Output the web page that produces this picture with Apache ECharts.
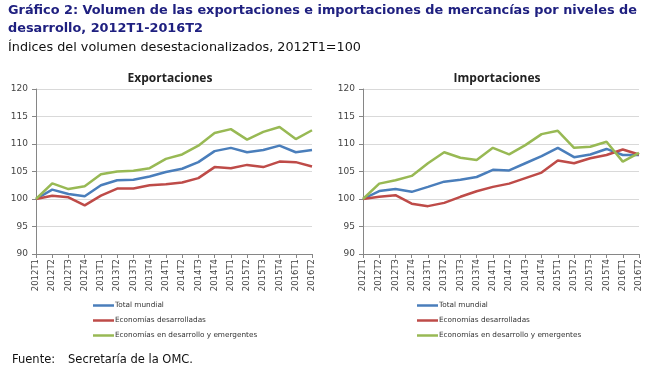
<!DOCTYPE html>
<html>
<head>
<meta charset="utf-8">
<script src="https://cdn.jsdelivr.net/npm/echarts@6/dist/echarts.min.js"></script>
<style>
html,body{margin:0;padding:0;background:#fff;}
#c{width:650px;height:368px;}
</style>
</head>
<body>
<div id="c"></div>
<script>
var categories = ['2012T1','2012T2','2012T3','2012T4','2013T1','2013T2','2013T3','2013T4','2014T1','2014T2','2014T3','2014T4','2015T1','2015T2','2015T3','2015T4','2016T1','2016T2'];
var yTicks = [90, 95, 100, 105, 110, 115, 120];
var seriesNames = ['Total mundial', 'Economías desarrolladas', 'Economías en desarrollo y emergentes'];

var expTotal = [100, 101.7, 100.9, 100.5, 102.5, 103.4, 103.5, 104.1, 104.9, 105.5, 106.7, 108.7, 109.3, 108.5, 108.9, 109.7, 108.5, 108.9];
var expDev   = [100, 100.6, 100.3, 98.85, 100.6, 101.9, 101.9, 102.5, 102.7, 103.0, 103.8, 105.8, 105.6, 106.2, 105.8, 106.8, 106.7, 105.9];
var expEmer  = [100, 102.85, 101.8, 102.3, 104.5, 105.0, 105.15, 105.6, 107.3, 108.1, 109.7, 112.0, 112.7, 110.8, 112.2, 113.1, 110.9, 112.5];

var impTotal = [100, 101.45, 101.8, 101.3, 102.2, 103.15, 103.5, 104.0, 105.3, 105.2, 106.5, 107.8, 109.3, 107.6, 108.1, 109.1, 108.0, 108.0];
var impDev   = [100, 100.4, 100.7, 99.15, 98.7, 99.3, 100.4, 101.4, 102.2, 102.8, 103.8, 104.8, 107.0, 106.5, 107.4, 108.0, 109.0, 108.1];
var impEmer  = [100, 102.8, 103.4, 104.2, 106.5, 108.5, 107.5, 107.1, 109.3, 108.1, 109.8, 111.8, 112.4, 109.3, 109.5, 110.4, 106.8, 108.4];

var colors = ['#4A7EBB', '#BE4B48', '#98B954'];
var FONT = '"DejaVu Sans", Verdana, sans-serif';

function xAxis(gi) {
  return {
    type: 'category', gridIndex: gi, data: categories, boundaryGap: false,
    axisLine: {lineStyle: {color: '#868686', width: 1}},
    axisTick: {show: true, interval: 0, length: 4, lineStyle: {color: '#868686'}},
    axisLabel: {interval: 0, rotate: 90, fontSize: 8.5, color: '#444', fontFamily: FONT, margin: 5}
  };
}
function yAxis(gi) {
  return {
    type: 'value', gridIndex: gi, min: yTicks[0], max: yTicks[yTicks.length - 1], interval: 5,
    axisLine: {show: true, lineStyle: {color: '#868686', width: 1}},
    axisTick: {show: true, length: 4, lineStyle: {color: '#868686'}},
    axisLabel: {fontSize: 9, color: '#444', fontFamily: FONT, margin: 8},
    splitLine: {lineStyle: {color: '#D9D9D9', width: 1}}
  };
}
function line(name, data, gi, color) {
  return {
    name: name, type: 'line', xAxisIndex: gi, yAxisIndex: gi, data: data,
    showSymbol: false, symbol: 'none', lineStyle: {width: 2.5, color: color}, itemStyle: {color: color},
    animation: false
  };
}
function legend(left) {
  return {
    data: seriesNames, orient: 'vertical', left: left, top: 297, itemGap: 8,
    icon: 'rect', itemWidth: 21, itemHeight: 2.5,
    textStyle: {fontSize: 7.3, color: '#333', fontFamily: FONT, padding: [0, 0, 0, -4]},
    selectedMode: false
  };
}

var chart = echarts.init(document.getElementById('c'), null, {renderer: 'canvas'});
chart.setOption({
  animation: false,
  color: colors,
  title: [
    {text: 'Exportaciones', left: 165, top: 68, textAlign: 'center',
     textStyle: {fontSize: 12, fontWeight: 'bold', color: '#222', fontFamily: '"Open Sans", sans-serif'}},
    {text: 'Importaciones', left: 492, top: 68, textAlign: 'center',
     textStyle: {fontSize: 12, fontWeight: 'bold', color: '#222', fontFamily: '"Open Sans", sans-serif'}}
  ],
  graphic: [
    {type: 'text', left: 8, top: 4, style: {text: 'Gráfico 2: Volumen de las exportaciones e importaciones de mercancías por niveles de', font: 'bold 12.85px ' + FONT, fill: '#1F2080'}},
    {type: 'text', left: 8, top: 22, style: {text: 'desarrollo, 2012T1-2016T2', font: 'bold 12.85px ' + FONT, fill: '#1F2080'}},
    {type: 'text', left: 8, top: 41, style: {text: 'Índices del volumen desestacionalizados, 2012T1=100', font: '12.8px ' + FONT, fill: '#111'}},
    {type: 'text', left: 12, top: 354, style: {text: 'Fuente:', font: '11.5px ' + FONT, fill: '#111'}},
    {type: 'text', left: 68, top: 354, style: {text: 'Secretaría de la OMC.', font: '11.5px ' + FONT, fill: '#111'}}
  ],
  legend: [legend(88), legend(412)],
  grid: [
    {left: 36, right: 338, top: 89, height: 165},
    {left: 363, right: 11, top: 89, height: 165}
  ],
  xAxis: [xAxis(0), xAxis(1)],
  yAxis: [yAxis(0), yAxis(1)],
  series: [
    line(seriesNames[0], expTotal, 0, colors[0]),
    line(seriesNames[1], expDev, 0, colors[1]),
    line(seriesNames[2], expEmer, 0, colors[2]),
    line(seriesNames[0], impTotal, 1, colors[0]),
    line(seriesNames[1], impDev, 1, colors[1]),
    line(seriesNames[2], impEmer, 1, colors[2])
  ]
});
</script>
</body>
</html>
